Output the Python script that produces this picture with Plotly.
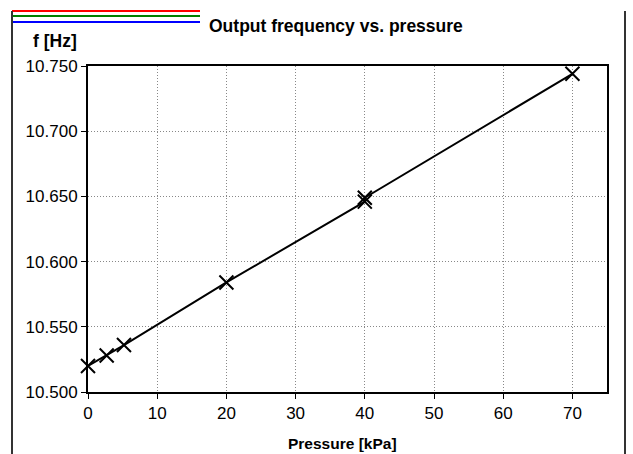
import plotly.graph_objects as go

pressure_kpa = [0, 2.7, 5.2, 20, 40, 40, 70]
frequency_hz = [10.520, 10.528, 10.536, 10.584, 10.646, 10.649, 10.744]

x_ticks = [0, 10, 20, 30, 40, 50, 60, 70]
y_ticks = [10.500, 10.550, 10.600, 10.650, 10.700, 10.750]

FONT = "Liberation Sans, Arial, sans-serif"

fig = go.Figure()
fig.add_trace(go.Scatter(
    x=pressure_kpa, y=frequency_hz, mode="lines+markers",
    line=dict(color="black", width=2),
    marker=dict(symbol="x-thin", size=14, color="black",
                line=dict(color="black", width=2)),
    showlegend=False, hoverinfo="x+y", cliponaxis=False,
))

W, H = 633, 454
ml, mr, mt, mb = 88, 26, 66, 62
pw, ph = W - ml - mr, H - mt - mb


def px(x):
    return (x - ml) / pw


def py(y):
    return (H - mb - y) / ph


fig.update_layout(
    width=W, height=H,
    margin=dict(l=ml, r=mr, t=mt, b=mb, pad=0),
    paper_bgcolor="white", plot_bgcolor="white",
    font=dict(family=FONT, color="black", size=17),
    xaxis=dict(
        range=[0, 75], tickvals=x_ticks, ticktext=[str(v) for v in x_ticks],
        showline=True, linecolor="black", linewidth=2, mirror=True,
        ticks="outside", ticklen=5, tickwidth=1, tickcolor="black",
        showgrid=True, gridcolor="#888888", griddash="1px,2px", gridwidth=1,
        zeroline=False, tickfont=dict(size=17),
    ),
    yaxis=dict(
        range=[10.5, 10.75], tickvals=y_ticks,
        ticktext=[f"{v:.3f}" for v in y_ticks],
        showline=True, linecolor="black", linewidth=2, mirror=True,
        ticks="outside", ticklen=5, tickwidth=1, tickcolor="black",
        showgrid=True, gridcolor="#888888", griddash="1px,2px", gridwidth=1,
        zeroline=False, tickfont=dict(size=17),
    ),
    annotations=[
        dict(text="<b>Output frequency vs. pressure</b>", xref="paper", yref="paper",
             x=px(336), y=py(26), xanchor="center", yanchor="middle",
             showarrow=False, font=dict(size=17.5)),
        dict(text="<b>f [Hz]</b>", xref="paper", yref="paper",
             x=px(54.5), y=py(41), xanchor="center", yanchor="middle",
             showarrow=False, font=dict(size=17.5)),
        dict(text="<b>Pressure [kPa]</b>", xref="paper", yref="paper",
             x=px(342), y=py(443), xanchor="center", yanchor="middle",
             showarrow=False, font=dict(size=15.5)),
    ],
    shapes=[
        dict(type="line", xref="paper", yref="paper", layer="above",
             x0=px(12), x1=px(200), y0=py(11), y1=py(11),
             line=dict(color="red", width=2)),
        dict(type="line", xref="paper", yref="paper", layer="above",
             x0=px(12), x1=px(200), y0=py(16), y1=py(16),
             line=dict(color="green", width=2)),
        dict(type="line", xref="paper", yref="paper", layer="above",
             x0=px(12), x1=px(200), y0=py(22), y1=py(22),
             line=dict(color="blue", width=2)),
        dict(type="line", xref="paper", yref="paper", layer="above",
             x0=px(12), x1=px(12), y0=py(470), y1=py(11),
             line=dict(color="#333333", width=2)),
        dict(type="line", xref="paper", yref="paper", layer="above",
             x0=px(625), x1=px(625), y0=py(470), y1=py(11),
             line=dict(color="#333333", width=2)),
    ],
)

fig.write_html("out.html", config={"displayModeBar": False},
               post_script="document.body.style.margin='0';document.body.style.padding='0';document.body.style.overflow='hidden';")
